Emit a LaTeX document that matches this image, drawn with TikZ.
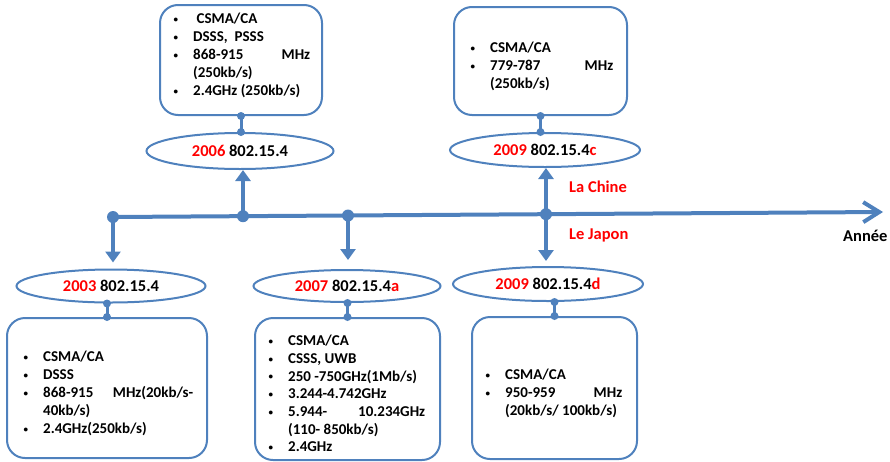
\documentclass[tikz,border=0pt]{standalone}
\usepackage{fontspec}
\setmainfont{Carlito}
\usetikzlibrary{arrows.meta,shapes.geometric}

\definecolor{stdblue}{HTML}{4F81BD}
\definecolor{yearred}{HTML}{FF0000}

% one bulleted item with a hanging indent and a small bullet
\newcommand\smallbullet{\raisebox{1.2pt}{\fontsize{9}{9}\selectfont\textbullet}}
\newcommand\bul[1]{\par\noindent\hangindent=20pt\hangafter=1\makebox[20pt][l]{\hspace{0.5pt}\smallbullet}#1}
\newcommand\yr[1]{{\color{yearred}#1}}

\begin{document}
\hyphenpenalty=10000
\begin{tikzpicture}[x=1pt,y=-1pt,
  specbox/.style={draw=stdblue,line width=2pt,rounded corners=18pt,inner sep=0pt},
  spec/.style={anchor=west,inner sep=0pt,align=justify,
    font=\fontsize{15}{18}\selectfont\bfseries},
  std/.style={ellipse,draw=stdblue,line width=2pt,inner sep=0pt,
    font=\fontsize{16.5}{20}\selectfont\bfseries},
  axisline/.style={stdblue,line width=4pt},
  varrow/.style={stdblue,line width=4pt,-{Triangle[length=11pt,width=15pt]}},
  link/.style={stdblue,line width=3pt},
  dot/.style={fill=stdblue},
  region/.style={anchor=west,inner sep=0pt,text=yearred,
    font=\fontsize{16.5}{20}\selectfont\bfseries},
  axislabel/.style={anchor=west,inner sep=0pt,
    font=\fontsize{16.5}{20}\selectfont\bfseries}
]
\useasboundingbox (0,0) rectangle (890,461);

% ---- standards (ellipses)
\node[std,minimum width=189pt,minimum height=33pt] (e2003) at (111,286) {\yr{2003} 802.15.4};
\node[std,minimum width=187pt,minimum height=36pt] (e2006) at (240,151) {\yr{2006} 802.15.4};
\node[std,minimum width=187pt,minimum height=32pt] (e2007) at (347,286) {\yr{2007} 802.15.4\yr{a}};
\node[std,minimum width=190pt,minimum height=34pt] (e2009c) at (545,150) {\yr{2009} 802.15.4\yr{c}};
\node[std,minimum width=190pt,minimum height=34pt] (e2009d) at (548,284) {\yr{2009} 802.15.4\yr{d}};

% ---- feature boxes
\node[specbox,minimum width=200pt,minimum height=140pt] (b2003) at (107,388) {};
\node[specbox,minimum width=162pt,minimum height=110pt] (b2006) at (241,60) {};
\node[specbox,minimum width=185pt,minimum height=142pt] (b2007) at (347.5,389) {};
\node[specbox,minimum width=173pt,minimum height=108pt] (b2009c) at (540.5,61) {};
\node[specbox,minimum width=165pt,minimum height=142pt] (b2009d) at (554.5,388) {};

\node[spec,text width=170pt] (t2003) at (23,390) {%
  \bul{CSMA/CA}
  \bul{DSSS}
  \bul{868-915 MHz(20kb/s-\linebreak 40kb/s)}
  \bul{2.4GHz(250kb/s)}\par};
\node[spec,text width=137pt] (t2006) at (173,52) {%
  \bul{\hspace*{3.5pt}CSMA/CA}
  \bul{DSSS,\ \ PSSS}
  \bul{868-915 MHz\linebreak (250kb/s)}
  \bul{2.4GHz (250kb/s)}\par};
\node[spec,text width=157pt,font=\fontsize{15}{17.7}\selectfont\bfseries] (t2007) at (268,390) {%
  \bul{CSMA/CA}
  \bul{CSSS, UWB}
  \bul{250 -750GHz(1Mb/s)}
  \bul{3.244-4.742GHz}
  \bul{5.944- 10.234GHz\linebreak (110- 850kb/s)}
  \bul{2.4GHz}\par};
\node[spec,text width=143pt] (t2009c) at (470,63) {%
  \bul{CSMA/CA}
  \bul{779-787 MHz\linebreak (250kb/s)}\par};
\node[spec,text width=137pt] (t2009d) at (485,390) {%
  \bul{CSMA/CA}
  \bul{950-959 MHz\linebreak (20kb/s/ 100kb/s)}\par};

% ---- box-to-standard links with round ends
\foreach \b/\e in {b2003/e2003,b2007/e2007,b2009d/e2009d}{
  \draw[link] (\b.north) -- (\b.north |- \e.south);
  \fill[dot] (\b.north) circle (4pt) (\b.north |- \e.south) circle (4pt);
}
\foreach \b/\e in {b2006/e2006,b2009c/e2009c}{
  \draw[link] (\b.south) -- (\b.south |- \e.north);
  \fill[dot] (\b.south) circle (4pt) (\b.south |- \e.north) circle (4pt);
}

% ---- time axis
\coordinate (tstart) at (113,217);
\coordinate (tend) at (883,212);
\coordinate (d2003) at (113,217);
\coordinate (d2006) at (243,216.2);
\coordinate (d2007) at (348,215.5);
\coordinate (d2009) at (546,214.2);

\draw[axisline,-{Straight Barb[length=16pt,width=20pt]}] (tstart) -- (tend);

\draw[varrow,shorten >=6pt] (d2003) -- (d2003 |- e2003.north);
\draw[varrow] (d2006) -- (d2006 |- e2006.south);
\draw[varrow,shorten >=9pt] (d2007) -- (d2007 |- e2007.north);
\draw[varrow] (d2009) -- (d2009 |- e2009c.south);
\draw[varrow,shorten >=5pt] (d2009) -- (d2009 |- e2009d.north);

\foreach \d in {d2003,d2006,d2007,d2009}
  \fill[dot] (\d) circle (6pt);

\node[region] (china) at (569,187) {La Chine};
\node[region] (japan) at (569,235) {Le Japon};
\node[axislabel] (year) at (843,236) {Année};
\end{tikzpicture}
\end{document}
